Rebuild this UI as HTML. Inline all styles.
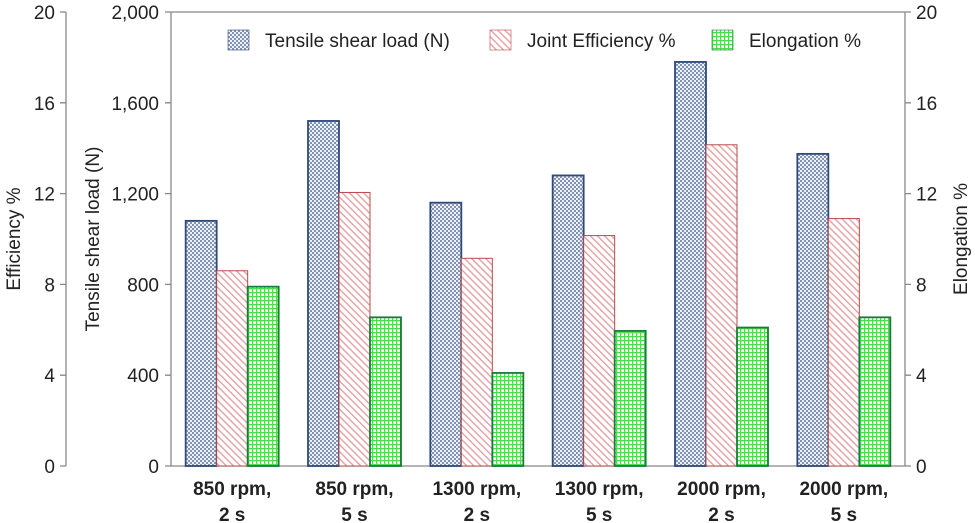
<!DOCTYPE html>
<html><head><meta charset="utf-8"><style>
body{margin:0;background:#fff}
svg{display:block;font-family:"Liberation Sans",sans-serif}
</style></head><body>
<svg id="chart" width="975" height="523">
<defs>
<pattern id="pBlue" width="4" height="4" patternUnits="userSpaceOnUse"><rect width="4" height="4" fill="#eef1f6"/><rect x="0" y="0" width="2" height="2" fill="#8393b3"/><rect x="2" y="2" width="2" height="2" fill="#8393b3"/></pattern>
<pattern id="pRed" width="5" height="5" patternUnits="userSpaceOnUse" patternTransform="rotate(-45)"><rect width="5" height="5" fill="#fff"/><rect x="0" y="0" width="1.3" height="5" fill="#e39a9a"/></pattern>
<pattern id="pGreen" width="4" height="4" patternUnits="userSpaceOnUse"><rect width="4" height="4" fill="#fff"/><rect x="0" y="0" width="4" height="1.3" fill="#4be04b"/><rect x="0" y="0" width="1.3" height="4" fill="#4be04b"/></pattern>
</defs>
<g id="g"></g>
</svg>
<script>
const categories=[["850 rpm,","2 s"],["850 rpm,","5 s"],["1300 rpm,","2 s"],["1300 rpm,","5 s"],["2000 rpm,","2 s"],["2000 rpm,","5 s"]];
const tensile=[1080,1520,1160,1280,1780,1375];
const efficiency=[8.6,12.05,9.15,10.15,14.15,10.9];
const elongation=[7.9,6.55,4.1,5.95,6.1,6.55];
const loadTicks=["0","400","800","1,200","1,600","2,000"];
const pctTicks=["0","4","8","12","16","20"];
const NS="http://www.w3.org/2000/svg";
const g=document.getElementById('g');
const X0=171,X1=905,Y0=466,Y1=12;
const yLoad=v=>Y0-(v/2000)*(Y0-Y1);
const yPct=v=>Y0-(v/20)*(Y0-Y1);
const gw=(X1-X0)/categories.length;
const FS=19;
function mk(t,a,txt){const e=document.createElementNS(NS,t);for(const k in a)e.setAttribute(k,a[k]);if(txt!==undefined)e.textContent=txt;g.appendChild(e);return e;}
let e;
e=mk('path',{d:`M66 ${Y1}V${Y0}M${X0} ${Y1}V${Y0}H${X1}M${X0} ${Y1}H${X1}M${X1} ${Y1}V${Y0}`,stroke:'#888',fill:'none','stroke-width':1.3});

for(let i=0;i<6;i++){
 const y=Y0-i*(Y0-Y1)/5;
 e=mk('path',{d:`M60 ${y}H66M165 ${y}H171M${X1} ${y}H${X1+6}`,stroke:'#888','stroke-width':1.3});
 
 e=mk('text',{x:55,y:y+7,'text-anchor':'end','font-size':FS,fill:'#222'},pctTicks[i]);
 
 e=mk('text',{x:159,y:y+7,'text-anchor':'end','font-size':FS,fill:'#222'},loadTicks[i]);
 
 e=mk('text',{x:916,y:y+7,'text-anchor':'start','font-size':FS,fill:'#222'},pctTicks[i]);
 
}
e=mk('text',{transform:'translate(20,239) rotate(-90)','text-anchor':'middle','font-size':FS,fill:'#222'},'Efficiency %');

e=mk('text',{transform:'translate(99,239) rotate(-90)','text-anchor':'middle','font-size':FS,fill:'#222'},'Tensile shear load (N)');

e=mk('text',{transform:'translate(967,239) rotate(-90)','text-anchor':'middle','font-size':FS,fill:'#222'},'Elongation %');

const bw=31;
categories.forEach((c,i)=>{
 const cx=X0+gw*(i+0.5);
 const x0=cx-1.5*bw;
 const yt=yLoad(tensile[i]),ye=yPct(efficiency[i]),yl=yPct(elongation[i]);
 e=mk('rect',{x:x0,y:yt,width:bw,height:Y0-yt,fill:'url(#pBlue)',stroke:'#2f4a7a','stroke-width':1.8});
 
 e=mk('rect',{x:x0+bw,y:ye,width:bw,height:Y0-ye,fill:'url(#pRed)',stroke:'#b84a4a','stroke-width':1});
 
 e=mk('rect',{x:x0+2*bw,y:yl,width:bw,height:Y0-yl,fill:'url(#pGreen)',stroke:'#1a7a3a','stroke-width':1.8});
 
 e=mk('text',{x:cx,y:495,'text-anchor':'middle','font-size':FS,'font-weight':'bold',fill:'#222'},c[0]);
 
 e=mk('text',{x:cx,y:521,'text-anchor':'middle','font-size':FS,'font-weight':'bold',fill:'#222'},c[1]);
 
});
const legend=[["url(#pBlue)","#2f4a7a","Tensile shear load (N)",228],["url(#pRed)","#b84a4a","Joint Efficiency %",490],["url(#pGreen)","#1a7a3a","Elongation %",712]];
legend.forEach(l=>{
 e=mk('rect',{x:l[3],y:30,width:21,height:20,fill:l[0],stroke:l[1],'stroke-width':0.6});
 
 e=mk('text',{x:l[3]+37,y:47,'font-size':FS,fill:'#222'},l[2]);
 
});
</script>
</body></html>
